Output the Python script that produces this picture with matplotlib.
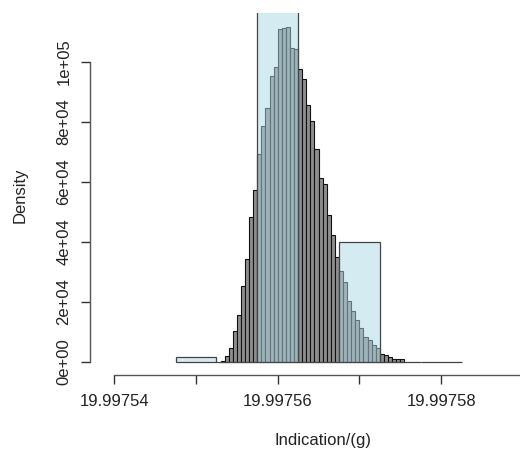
import matplotlib
matplotlib.use("Agg")
import matplotlib.pyplot as plt

plt.rcParams['font.family'] = ['Liberation Sans', 'DejaVu Sans']

# fine histogram (density), bins of 5e-7 starting at 19.997553
fine_start = 19.997553
fine_width = 5e-7
fine_density = [300, 1900, 4400, 10200, 15600, 25200, 34300, 48100, 57200,
                69200, 78700, 84700, 95300, 98100, 110800, 111100, 111700,
                104400, 104100, 97400, 94300, 85600, 80200, 70800, 61300,
                59200, 48900, 42200, 34800, 30300, 26400, 20200, 17000,
                13900, 11100, 8300, 7200, 5600, 4400, 2400, 2200, 1400,
                900, 900, 800]

# coarse histogram (density), bins of 5e-6 starting at 19.9975475
coarse_start = 19.9975475
coarse_width = 5e-6
coarse_density = [1700, 0, 158300, 0, 40000, 0, 0]

xticks = [19.99754, 19.99755, 19.99756, 19.99757, 19.99758, 19.99759]
xlabels = ['19.99754', '', '19.99756', '', '19.99758', '']
yticks = [0, 2e4, 4e4, 6e4, 8e4, 1e5]
ylabels = ['0e+00', '2e+04', '4e+04', '6e+04', '8e+04', '1e+05']

fig = plt.figure(figsize=(5.2, 4.51), dpi=100)
ax = fig.add_axes([90/520, (451-375.4)/451, 430/520, (375.4-13)/451])

fx = [fine_start + i*fine_width for i in range(len(fine_density))]
ax.bar(fx, fine_density, width=fine_width, align='edge', color='#8e8e8e',
       edgecolor='#111111', linewidth=0.8, zorder=2)

cx = [coarse_start + i*coarse_width for i in range(len(coarse_density))]
ax.bar(cx, coarse_density, width=coarse_width, align='edge',
       facecolor=(0.678, 0.847, 0.902, 0.5), edgecolor='#444444',
       linewidth=0.9, zorder=3)

for s in ['top', 'right']:
    ax.spines[s].set_visible(False)
ax.spines['bottom'].set_bounds(xticks[0], 19.9976)
ax.spines['left'].set_bounds(0, 1e5)
for s in ['bottom', 'left']:
    ax.spines[s].set_color('#555555')
    ax.spines[s].set_linewidth(1.0)

ax.set_xticks(xticks)
ax.set_xticklabels(xlabels)
ax.set_yticks(yticks)
ax.set_yticklabels(ylabels, rotation=90, va='center')
ax.tick_params(axis='both', length=6.5, width=1.0, color='#333333',
               labelsize=12, labelcolor='#222222')
ax.tick_params(axis='x', pad=7)
ax.tick_params(axis='y', pad=7)

ax.set_xlim(19.99754 - 24.3/81.7*1e-5, 19.99754 + 405.7/81.7*1e-5)
ax.set_ylim(-4567, 116230)

fig.text(20/520, 1-195/451, 'Density', rotation=90, ha='center', va='center',
         fontsize=12, color='#222222')
fig.text(323/520, 1-440/451, 'Indication/(g)', ha='center', va='center',
         fontsize=12, color='#222222')

fig.savefig('out.png', dpi=100)
